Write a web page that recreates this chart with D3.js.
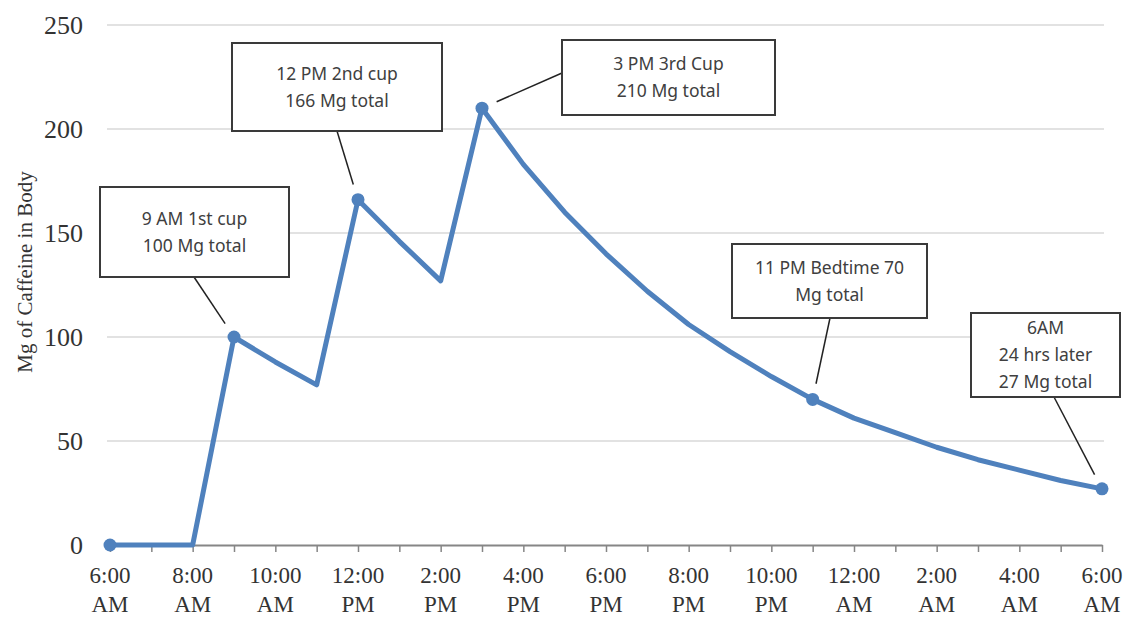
<!DOCTYPE html>
<html>
<head>
<meta charset="utf-8">
<script src="https://cdn.jsdelivr.net/npm/d3@7"></script>
<style>
  body { margin: 0; background: #fff; }
  svg { display: block; }
</style>
</head>
<body>
<script>
// hours since 6:00 AM, one reading per hour
const hours = [0, 1, 2, 3, 4, 5, 6, 7, 8, 9, 10, 11, 12, 13, 14, 15, 16, 17, 18, 19, 20, 21, 22, 23, 24];
const caffeine = [0, 0, 0, 100, 88, 77, 166, 146, 127, 210, 183, 160, 140, 122, 106, 93, 81, 70, 61, 54, 47, 41, 36, 31, 27];

// x tick labels (every 2 hours)
const tickHours = [0, 2, 4, 6, 8, 10, 12, 14, 16, 18, 20, 22, 24];
const tickTimes = ['6:00', '8:00', '10:00', '12:00', '2:00', '4:00', '6:00', '8:00', '10:00', '12:00', '2:00', '4:00', '6:00'];
const tickMeridiem = ['AM', 'AM', 'AM', 'PM', 'PM', 'PM', 'PM', 'PM', 'PM', 'AM', 'AM', 'AM', 'AM'];

const yTicks = [0, 50, 100, 150, 200, 250];

// points with a marker and a callout
const markedHours = [0, 3, 6, 9, 17, 24];
const calloutHours = [3, 6, 9, 17, 24];
const calloutText = [
	['9 AM 1st cup', '100 Mg total'],
	['12 PM 2nd cup', '166 Mg total'],
	['3 PM 3rd Cup', '210 Mg total'],
	['11 PM Bedtime 70', 'Mg total'],
	['6AM', '24 hrs later', '27 Mg total']
];

// callout boxes in pixels: x, y, w, h, leader start
const calloutBoxes = [
	{ x: 100, y: 187, w: 189, h: 90, lx: 194, ly: 277 },
	{ x: 232, y: 43, w: 210, h: 88, lx: 337, ly: 131 },
	{ x: 562, y: 40, w: 213, h: 75, lx: 562, ly: 73 },
	{ x: 732, y: 244, w: 195, h: 74, lx: 830, ly: 318 },
	{ x: 971, y: 313, w: 149, h: 84, lx: 1054, ly: 397 }
];

const width = 1124, height = 619;
const blue = '#4f81bd';

const svg = d3.select('body')
	.append('svg')
	.attr('width', width)
	.attr('height', height);

const x = d3.scaleLinear().domain([0, 24]).range([110, 1102]);
const y = d3.scaleLinear().domain([0, 250]).range([545, 25]);

// gridlines
svg.append('g')
	.selectAll('line')
	.data(yTicks.filter(d => d > 0))
	.enter()
	.append('line')
	.attr('x1', 107)
	.attr('x2', 1104)
	.attr('y1', d => y(d))
	.attr('y2', d => y(d))
	.attr('stroke', '#d9d9d9')
	.attr('stroke-width', 1.5);

// y axis labels
const yAxis = svg.append('g')
	.attr('transform', 'translate(107,0)')
	.call(d3.axisLeft(y).tickValues(yTicks).tickSize(0).tickPadding(24));
yAxis.select('.domain').remove();
yAxis.selectAll('text')
	.attr('font-family', '"Liberation Serif", serif')
	.attr('font-size', 26)
	.attr('fill', '#333');

// x axis
const xAxis = svg.append('g')
	.attr('transform', 'translate(0,545)')
	.call(d3.axisBottom(x).tickValues(hours).tickSize(7).tickSizeOuter(0).tickFormat(''));
xAxis.select('.domain').attr('stroke', '#868686').attr('stroke-width', 2);
xAxis.selectAll('.tick line').attr('stroke', '#868686').attr('stroke-width', 1.5);

const xLabels = svg.append('g')
	.attr('font-family', '"Liberation Serif", serif')
	.attr('font-size', 23)
	.attr('fill', '#333')
	.attr('text-anchor', 'middle');
xLabels.selectAll('text')
	.data(tickHours)
	.enter()
	.append('text')
	.attr('transform', d => `translate(${x(d)},0)`)
	.each(function(d, i) {
		const t = d3.select(this);
		t.append('tspan').attr('x', 0).attr('y', 583).text(tickTimes[i]);
		t.append('tspan').attr('x', 0).attr('y', 612).text(tickMeridiem[i]);
	});

// axis title
svg.append('text')
	.attr('transform', 'translate(32,272) rotate(-90)')
	.attr('text-anchor', 'middle')
	.attr('font-family', '"Liberation Serif", serif')
	.attr('font-size', 21)
	.attr('fill', '#333')
	.text('Mg of Caffeine in Body');

// the line
const line = d3.line()
	.x((d, i) => x(hours[i]))
	.y(d => y(d));

svg.append('path')
	.datum(caffeine)
	.attr('d', line)
	.attr('fill', 'none')
	.attr('stroke', blue)
	.attr('stroke-width', 5)
	.attr('stroke-linejoin', 'round');

svg.append('g')
	.selectAll('circle')
	.data(markedHours)
	.enter()
	.append('circle')
	.attr('cx', d => x(d))
	.attr('cy', d => y(caffeine[hours.indexOf(d)]))
	.attr('r', 6.5)
	.attr('fill', blue);

// callouts
const callouts = svg.append('g');
calloutHours.forEach((h, i) => {
	const b = calloutBoxes[i];
	const px = x(h), py = y(caffeine[hours.indexOf(h)]);
	const dx = b.lx - px, dy = b.ly - py;
	const len = Math.sqrt(dx * dx + dy * dy);
	const gap = 16;
	callouts.append('line')
		.attr('x1', b.lx)
		.attr('y1', b.ly)
		.attr('x2', px + dx / len * gap)
		.attr('y2', py + dy / len * gap)
		.attr('stroke', '#222')
		.attr('stroke-width', 1.5);
	callouts.append('rect')
		.attr('x', b.x)
		.attr('y', b.y)
		.attr('width', b.w)
		.attr('height', b.h)
		.attr('fill', '#fff')
		.attr('stroke', '#3a3a3a')
		.attr('stroke-width', 2);
	const lines = calloutText[i];
	const lh = 27;
	const t = callouts.append('text')
		.attr('text-anchor', 'middle')
		.attr('font-family', '"Noto Sans", sans-serif')
		.attr('font-size', 17.5)
		.attr('fill', '#404040');
	lines.forEach((s, j) => {
		t.append('tspan')
			.attr('x', b.x + b.w / 2)
			.attr('y', b.y + b.h / 2 - (lines.length - 1) * lh / 2 + j * lh + 6)
			.text(s);
	});
});
</script>
</body>
</html>
